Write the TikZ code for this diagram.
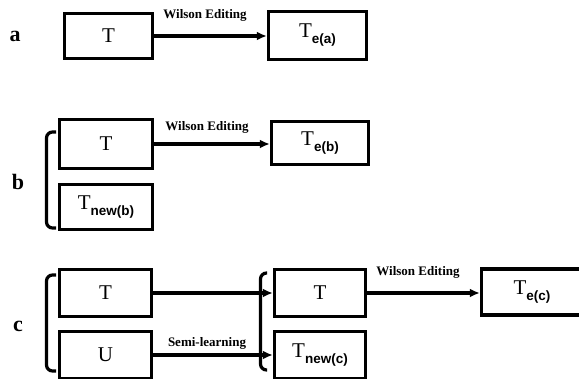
\documentclass[tikz,border=0pt]{standalone}
\usepackage{fontspec}
\setmainfont{Liberation Serif}
\newfontfamily\subfont{Liberation Sans}
\usetikzlibrary{arrows.meta}
\newcommand\Tsub[1]{T\raisebox{-6pt}{\subfont\bfseries\fontsize{13.5}{15}\selectfont #1}}
\begin{document}
\begin{tikzpicture}[x=1pt,y=-1pt,
  box/.style={draw, line width=3.4pt, inner sep=0pt, font=\fontsize{21}{23}\selectfont},
  conn/.style={line width=3.2pt, -{Latex[length=10pt,width=9pt]}},
  lbl/.style={font=\bfseries\fontsize{13}{15}\selectfont, inner sep=0pt},
  tag/.style={font=\bfseries\fontsize{22}{24}\selectfont, inner sep=0pt},
  brace/.style={line width=3.2pt, rounded corners=6pt}]
\useasboundingbox (0,0) rectangle (579,378);
\clip (0,0) rectangle (579,378);
% row a
\node[tag] (ta) at (15,36) {a};
\node[box, minimum width=88pt, minimum height=45pt] (aT) at (108.5,36) {T};
\node[box, minimum width=98pt, minimum height=48pt] (aE) at (317.5,35.5) {\Tsub{e(a)}};
\draw[conn] (aT.east) -- (aT.east -| aE.west);
\node[lbl] (la) at (205,15) {Wilson Editing};
% row b
\node[tag] (tb) at (18,182) {b};
\node[box, minimum width=93pt, minimum height=49pt] (bT) at (106,144) {T};
\node[box, minimum width=93pt, minimum height=45pt] (bN) at (106,207) {\Tsub{new(b)}};
\node[box, minimum width=97pt, minimum height=43pt] (bE) at (320,143) {\Tsub{e(b)}};
\draw[conn] (bT.east) -- (bT.east -| bE.west);
\node[lbl] (lb) at (207,127) {Wilson Editing};
\draw[brace] (56,132) -- (46.5,132) -- (46.5,228) -- (56,228);
% row c
\node[tag] (tc) at (18,326) {c};
\node[box, minimum width=92pt, minimum height=47pt] (cT) at (105.5,293) {T};
\node[box, minimum width=92pt, minimum height=47pt] (cU) at (105.5,355) {U};
\node[box, minimum width=91pt, minimum height=47pt] (cT2) at (320,293) {T};
\node[box, minimum width=91pt, minimum height=47pt] (cN) at (320,355) {\Tsub{new(c)}};
\node[box, minimum width=101pt, minimum height=46pt] (cE) at (532,292) {\Tsub{e(c)}};
\draw[brace] (56,275) -- (46.5,275) -- (46.5,371) -- (56,371);
\draw[brace] (267,273) -- (260.5,273) -- (260.5,370) -- (267,370);
\draw[conn] (cT.east) -- (cT.east -| cT2.west);
\draw[conn] (cU.east) -- (cU.east -| cN.west);
\draw[conn] (cT2.east) -- (cT2.east -| cE.west);
\node[lbl] (ls) at (207,343) {Semi-learning};
\node[lbl] (lc) at (418,272) {Wilson Editing};
\end{tikzpicture}
\end{document}
